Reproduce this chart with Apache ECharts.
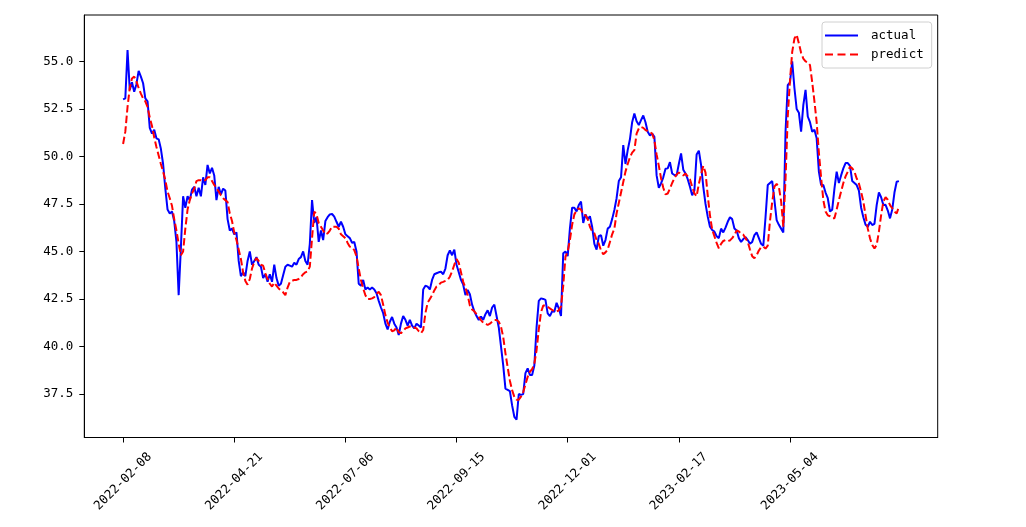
<!DOCTYPE html>
<html><head><meta charset="utf-8">
<script src="https://cdn.jsdelivr.net/npm/echarts@6/dist/echarts.min.js"></script>
<style>html,body{margin:0;padding:0;background:#fff}#c{width:1026px;height:527px}</style>
</head><body><div id="c"></div>
<script>
const tickLabels = ["2022-02-08","2022-04-21","2022-07-06","2022-09-15","2022-12-01","2023-02-17","2023-05-04"];
const tickPositions = [0,50,100,150,200,250,300];
const yTicks = [37.5,40,42.5,45,47.5,50,52.5,55];
const seriesNames = ["actual","predict"];
const actual = [
53.0,53.05,55.6,53.5,53.9,53.4,53.8,54.5,54.2,53.85,
53.05,52.9,51.5,51.2,51.4,50.95,50.9,50.4,49.6,48.3,
47.2,47.0,47.1,46.6,45.5,42.7,45.2,47.9,47.3,47.9,
47.7,48.25,48.4,47.9,48.35,47.9,48.9,48.5,49.55,49.1,
49.4,49.0,47.7,48.4,48.0,48.3,48.2,46.7,46.1,46.2,
45.9,46.0,44.5,43.7,43.9,43.7,44.5,45.0,44.3,44.5,
44.7,44.3,44.2,43.6,43.8,43.4,43.8,43.4,44.3,43.6,
43.2,43.3,43.75,44.2,44.3,44.25,44.2,44.4,44.3,44.6,
44.7,45.0,44.5,44.3,45.4,47.7,46.5,46.8,45.5,46.1,
45.6,46.6,46.8,46.95,46.97,46.83,46.56,46.3,46.56,46.3,
45.9,45.8,45.7,45.46,45.5,45.0,43.3,43.2,43.5,43.0,
43.1,43.0,43.1,43.0,42.8,42.4,42.05,41.75,41.2,40.9,
41.3,41.55,41.2,41.0,40.6,41.2,41.6,41.4,41.1,41.4,
41.1,40.95,41.2,41.1,41.0,43.0,43.2,43.15,43.0,43.5,
43.8,43.85,43.9,43.93,43.8,44.1,44.8,45.05,44.8,45.1,
44.3,43.9,43.5,43.25,42.7,42.97,42.75,42.2,41.85,41.6,
41.39,41.57,41.4,41.7,41.9,41.6,42.05,42.2,41.6,41.0,
40.0,39.0,37.78,37.72,37.65,36.9,36.3,36.15,37.5,37.45,
37.5,38.6,38.85,38.5,38.5,39.0,41.0,42.4,42.53,42.5,
42.45,41.74,41.6,41.85,41.83,42.3,42.0,41.6,44.9,45.0,
44.75,46.2,47.3,47.3,47.1,47.44,47.62,46.5,46.95,46.7,
46.85,46.3,45.4,45.1,45.8,45.86,45.3,45.6,46.2,46.3,
46.7,47.18,47.8,48.7,48.9,50.6,49.6,50.33,50.9,51.8,
52.26,51.85,51.65,51.91,52.15,51.8,51.3,51.1,51.2,51.03,
49.0,48.35,48.58,48.9,49.35,49.37,49.7,49.1,49.02,49.0,
49.6,50.16,49.3,49.1,48.8,48.4,47.95,48.2,50.1,50.3,
49.55,48.4,47.5,46.83,46.3,46.13,46.04,45.8,45.7,46.2,
46.0,46.25,46.56,46.8,46.7,46.21,46.1,45.7,45.5,45.65,
45.75,45.6,45.4,45.5,45.86,46.0,45.7,45.4,45.3,46.8,
48.49,48.6,48.7,47.7,46.65,46.4,46.2,46.0,51.3,53.75,
53.9,55.0,53.6,52.5,52.3,51.3,52.7,53.5,52.1,51.8,
51.3,51.4,50.95,49.2,48.49,48.5,48.1,47.8,47.1,47.2,
48.3,49.2,48.6,49.0,49.37,49.65,49.65,49.5,48.7,48.6,
48.49,48.2,47.3,46.8,46.4,46.3,46.56,46.39,46.45,47.44,
48.1,47.85,47.44,47.45,47.15,46.74,47.2,48.1,48.67,48.7
];
const predict = [
50.65,51.3,52.6,53.6,54.1,54.2,53.95,53.6,53.3,53.05,
52.9,52.6,52.05,51.6,51.0,50.5,50.05,49.6,49.2,48.75,
48.15,47.8,47.4,46.7,46.1,45.4,44.8,45.0,46.2,47.2,
47.7,48.05,48.3,48.7,48.75,48.75,48.7,48.75,48.9,48.9,
48.7,48.5,48.35,48.15,47.95,47.8,47.7,47.6,47.0,46.6,
46.0,45.6,45.1,44.6,43.9,43.45,43.25,43.55,44.1,44.45,
44.65,44.5,44.3,44.25,43.85,43.55,43.3,43.15,43.35,43.2,
43.05,42.95,42.85,42.7,43.1,43.4,43.45,43.5,43.5,43.55,
43.65,43.8,43.9,43.95,44.2,45.7,47.1,46.95,46.5,46.3,
46.1,45.9,45.95,46.1,46.3,46.3,46.3,46.2,45.9,45.8,
45.7,45.45,45.25,45.2,45.07,44.75,44.1,43.5,43.05,42.7,
42.5,42.5,42.53,42.6,42.75,42.88,42.7,42.2,41.65,41.25,
41.0,40.8,40.85,41.0,40.75,40.7,40.8,40.95,41.0,41.05,
41.08,41.0,40.95,40.8,40.69,40.87,41.75,42.3,42.5,42.7,
42.95,43.15,43.23,43.36,43.4,43.45,43.5,43.67,43.95,44.3,
44.6,44.4,43.9,43.4,43.1,42.71,42.15,41.95,41.85,41.7,
41.55,41.39,41.25,41.2,41.13,41.2,41.3,41.39,41.39,41.3,
41.04,40.5,39.64,38.9,38.2,37.7,37.35,37.2,37.2,37.36,
37.6,38.0,38.4,38.67,38.8,39.1,39.8,40.9,41.8,42.15,
42.15,42.09,42.0,41.92,41.85,41.83,41.9,42.1,43.2,44.72,
44.99,45.6,46.4,46.95,47.15,47.27,47.2,46.95,46.9,46.7,
46.3,46.05,45.95,45.6,45.4,45.05,44.85,44.95,45.1,45.5,
45.9,46.2,47.0,47.55,48.1,48.65,49.2,49.6,49.95,50.2,
50.33,51.2,51.47,51.55,51.5,51.39,51.33,51.28,51.2,50.86,
50.1,49.5,48.85,48.35,48.0,48.05,48.3,48.6,48.85,49.05,
49.15,49.1,49.0,49.1,48.95,48.8,48.4,48.05,47.9,48.55,
49.05,49.5,49.15,47.95,46.9,46.15,45.8,45.45,45.16,45.4,
45.55,45.6,45.55,45.58,45.7,45.86,46.1,46.05,45.95,45.88,
45.7,45.5,45.1,44.75,44.64,44.8,45.05,45.22,45.25,45.15,
45.3,46.6,47.6,48.41,48.55,48.4,47.65,46.3,48.8,52.1,
54.0,55.5,56.2,56.4,55.95,55.45,55.15,55.0,54.95,54.8,
53.9,52.9,51.8,50.2,48.9,47.7,47.1,46.9,46.85,46.75,
46.75,47.2,47.7,48.15,48.6,48.95,49.2,49.46,49.37,49.2,
48.84,48.58,48.14,47.62,46.9,46.2,45.69,45.34,45.16,45.34,
46.04,46.91,47.62,47.85,47.72,47.44,47.27,47.09,47.0,47.35
];

const FONT = '"DejaVu Sans Mono", monospace';
const n = actual.length - 1;
const chart = echarts.init(document.getElementById('c'), null, {renderer: 'canvas'});
chart.setOption({
  animation: false,
  backgroundColor: '#fff',
  grid: {left: 84.3, right: 88.3, top: 15, bottom: 89.5, show: true, borderColor: '#000', borderWidth: 1, backgroundColor: '#fff', containLabel: false},
  legend: {
    orient: 'vertical', left: 822, top: 22,
    padding: [7, 8, 7, 3], itemGap: 6, itemWidth: 33, itemHeight: 2, symbolKeepAspect: false,
    backgroundColor: 'rgba(255,255,255,0.8)', borderColor: '#d0d0d0', borderWidth: 1, borderRadius: 3,
    textStyle: {fontFamily: FONT, fontSize: 12.5, color: '#000', padding: [0, 0, 0, 8]},
    data: [
      {name: seriesNames[0], icon: 'path://M0,0H33V2H0Z', itemStyle: {color: '#0000ff'}},
      {name: seriesNames[1], icon: 'path://M0,0H8V2H0ZM12.5,0H20.5V2H12.5ZM25,0H33V2H25Z', itemStyle: {color: '#ff0000'}}
    ]
  },
  xAxis: {
    type: 'value', min: -0.05 * n, max: 1.05 * n,
    axisLine: {show: true, onZero: false, lineStyle: {color: '#000', width: 1}},
    axisTick: {show: true, length: 5, lineStyle: {color: '#000'}, customValues: tickPositions},
    axisLabel: {
      customValues: tickPositions, rotate: 45, align: 'center', verticalAlign: 'middle', margin: 44,
      fontFamily: FONT, fontSize: 12.5, color: '#000',
      formatter: v => tickLabels[tickPositions.indexOf(Math.round(v))] || ''
    },
    splitLine: {show: false}
  },
  yAxis: {
    type: 'value', min: 35.21, max: 57.44,
    axisLine: {show: true, onZero: false, lineStyle: {color: '#000', width: 1}},
    axisTick: {show: true, length: 5, lineStyle: {color: '#000'}, customValues: yTicks},
    axisLabel: {customValues: yTicks, margin: 11, fontFamily: FONT, fontSize: 12.5, color: '#000', formatter: v => v.toFixed(1)},
    splitLine: {show: false}
  },
  series: [
    {name: seriesNames[0], type: 'line', data: actual.map((v, i) => [i, v]), showSymbol: false, symbol: 'none',
     lineStyle: {color: '#0000ff', width: 2}, itemStyle: {color: '#0000ff'}, z: 2},
    {name: seriesNames[1], type: 'line', data: predict.map((v, i) => [i, v]), showSymbol: false, symbol: 'none',
     lineStyle: {color: '#ff0000', width: 2, type: [7.4, 3.2]}, itemStyle: {color: '#ff0000'}, z: 3}
  ]
});
</script></body></html>
